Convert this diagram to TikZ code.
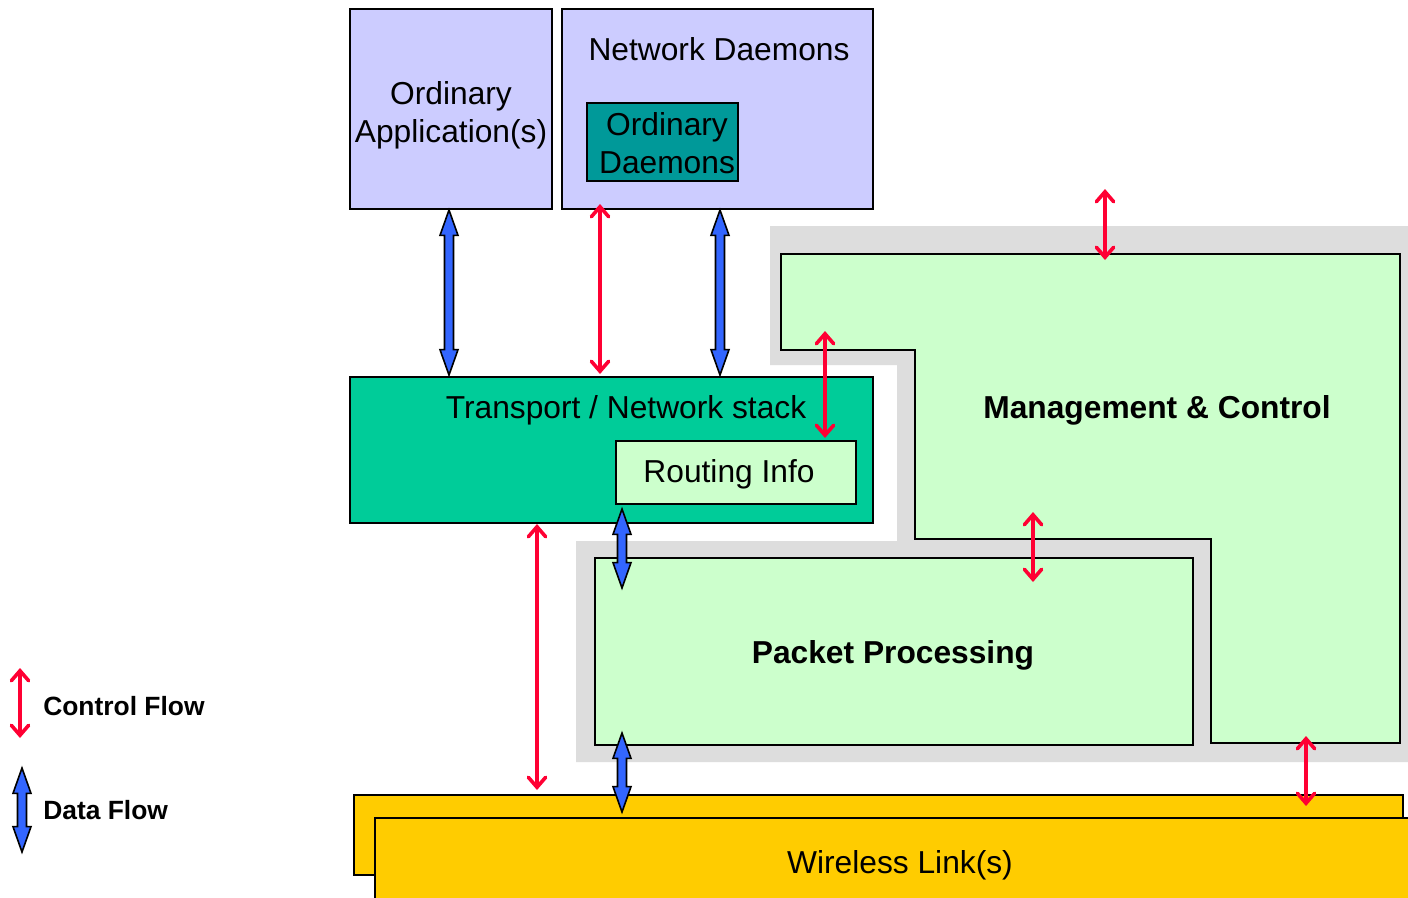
\documentclass[tikz,border=0pt]{standalone}
\usepackage{fontspec}
\setmainfont{Liberation Sans}
\usetikzlibrary{arrows.meta,calc}
\definecolor{lav}{HTML}{CCCCFF}
\definecolor{tealbox}{HTML}{009999}
\definecolor{tgreen}{HTML}{00CC99}
\definecolor{lgreen}{HTML}{CCFFCC}
\definecolor{shadegray}{HTML}{DDDDDD}
\definecolor{yel}{HTML}{FFCC00}
\definecolor{dblue}{HTML}{3366FF}
\definecolor{ctrlred}{HTML}{FF0033}
\newcommand{\dataflow}[2]{%
  \filldraw[fill=dblue, draw=black, line width=1.2pt, line join=miter]
    let \p1=(#1), \p2=(#2) in
    (\x1,\y1) -- ({\x1+6.75pt},{\y1-19pt}) -- ({\x1+3.4pt},{\y1-19pt})
    -- ({\x1+3.4pt},{\y2+19pt}) -- ({\x1+6.75pt},{\y2+19pt}) -- (\x1,\y2)
    -- ({\x1-6.75pt},{\y2+19pt}) -- ({\x1-3.4pt},{\y2+19pt})
    -- ({\x1-3.4pt},{\y1-19pt}) -- ({\x1-6.75pt},{\y1-19pt}) -- cycle;}
\begin{document}
\begin{tikzpicture}[x=0.75pt,y=-0.75pt,
  box/.style={draw=black,line width=1.4pt,anchor=north west,inner sep=0pt,outer sep=0pt},
  big/.style={font=\fontsize{23.8}{28.5}\selectfont},
  boldtxt/.style={font=\fontsize{23.8}{28.5}\selectfont\bfseries},
  legendtxt/.style={font=\fontsize{19.8}{24}\selectfont\bfseries,anchor=west,inner sep=0pt},
  ctrl/.style={draw=ctrlred,line width=2.7pt,line cap=round,
    arrows={Straight Barb[length=7.5pt,width=13pt,line cap=round]-Straight Barb[length=7.5pt,width=13pt,line cap=round]}}]
\useasboundingbox (0,0) rectangle (1408,897);
\fill[white] (0,0) rectangle (1408,897);

% gray shadow of management & packet processing
\fill[shadegray] (770,226) -- (1408,226) -- (1408,762) -- (576,762) -- (576,541)
  -- (897,541) -- (897,365) -- (770,365) -- cycle;

% management & control
\filldraw[fill=lgreen, draw=black, line width=1.3pt] (781,254) -- (1400,254) -- (1400,743)
  -- (1211,743) -- (1211,539) -- (915,539) -- (915,350) -- (781,350) -- cycle;
\node[boldtxt] (mc) at (1157,410) {Management \& Control};

% top boxes
\node[box, fill=lav, minimum width=151.5pt, minimum height=150pt] (app) at (350,9) {};
\node[big, align=center] (appl) at (451,115) {Ordinary\\Application(s)};
\node[box, fill=lav, minimum width=233.25pt, minimum height=150pt] (netd) at (562,9) {};
\node[big] (netdl) at (719,49) {Network Daemons};
\node[box, fill=tealbox, line width=1.2pt, minimum width=113.25pt, minimum height=58.5pt] (ordd) at (587,103) {};
\node[big, align=center] (orddl) at (667,143.5) {Ordinary\\Daemons};

% transport
\node[box, fill=tgreen, minimum width=392.25pt, minimum height=109.5pt] (tns) at (350,377) {};
\node[big] (tnsl) at (626,410) {Transport / Network stack};
\node[box, fill=lgreen, line width=1.2pt, minimum width=180pt, minimum height=47.25pt] (ri) at (616,441) {};
\node[big] (ril) at (729,474) {Routing Info};

% packet processing
\node[box, fill=lgreen, minimum width=448.5pt, minimum height=140.25pt] (pp) at (595,558) {};
\node[boldtxt] (ppl) at (893,655.5) {Packet Processing};

% wireless links
\node[box, fill=yel, line width=1.2pt, minimum width=786.75pt, minimum height=60pt] (wl2) at (354,795) {};
\node[box, fill=yel, line width=1.2pt, minimum width=800pt, minimum height=70pt] (wl) at (375,818) {};
\node[big] (wll) at (900,865) {Wireless Link(s)};

% connector end points
\coordinate (r1a) at (600,204); \coordinate (r1b) at (600,374);
\coordinate (r2a) at (1105,189); \coordinate (r2b) at (1105,260);
\coordinate (r3a) at (825,331); \coordinate (r3b) at (825,438);
\coordinate (r4a) at (1033,512); \coordinate (r4b) at (1033,582);
\coordinate (r5a) at (537,524); \coordinate (r5b) at (537,790);
\coordinate (r6a) at (1306,736); \coordinate (r6b) at (1306,806);
\coordinate (rla) at (20,668); \coordinate (rlb) at (20,738);
\coordinate (b1a) at (449,210); \coordinate (b1b) at (449,375);
\coordinate (b2a) at (720,210); \coordinate (b2b) at (720,375);
\coordinate (b3a) at (622,509); \coordinate (b3b) at (622,588);
\coordinate (b4a) at (622,733); \coordinate (b4b) at (622,812);
\coordinate (bla) at (22,768); \coordinate (blb) at (22,852);

% control flow
\draw[ctrl] (r1a) -- (r1b);
\draw[ctrl] (r2a) -- (r2b);
\draw[ctrl] (r3a) -- (r3b);
\draw[ctrl] (r4a) -- (r4b);
\draw[ctrl] (r5a) -- (r5b);
\draw[ctrl] (r6a) -- (r6b);
\draw[ctrl] (rla) -- (rlb);

% data flow
\dataflow{b1a}{b1b}
\dataflow{b2a}{b2b}
\dataflow{b3a}{b3b}
\dataflow{b4a}{b4b}
\dataflow{bla}{blb}

% legend
\node[legendtxt] (lc) at (43,706) {Control Flow};
\node[legendtxt] (ld) at (43,810) {Data Flow};
\end{tikzpicture}
\end{document}
